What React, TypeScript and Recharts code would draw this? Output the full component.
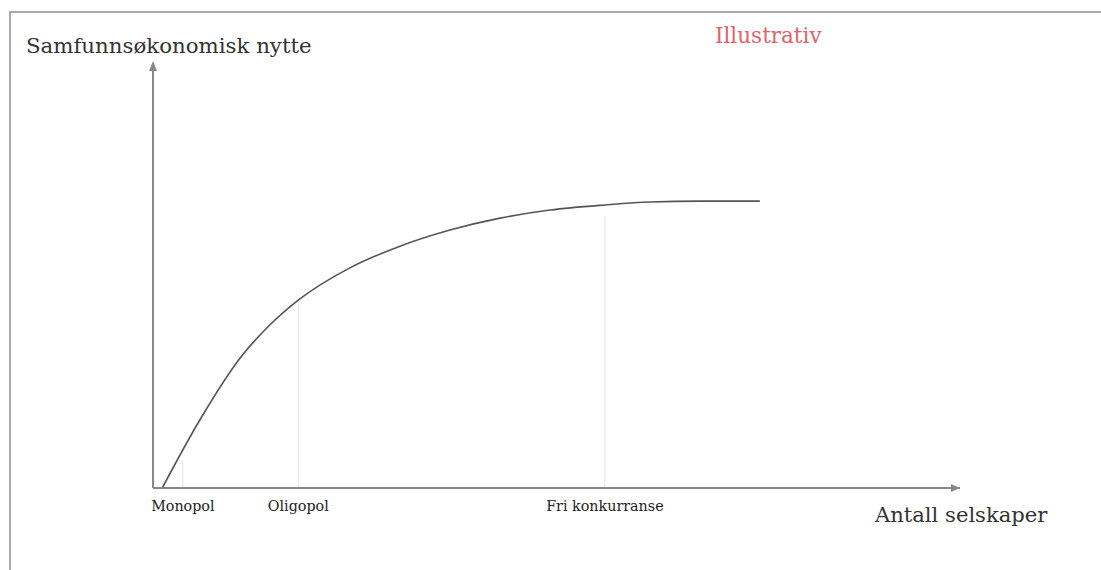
import React from 'react'
import {
  ComposedChart,
  Line,
  XAxis,
  YAxis,
  ReferenceLine,
  ReferenceDot,
} from 'recharts'

// curve (x = antall selskaper, y = nytte, arbitrary units)
const antall = [1.2, 5.8, 10.8, 14.5, 18, 24.4, 30.6, 36.8, 43, 49.2, 56, 61.6, 67.8, 75.2]
const nytte = [0.2, 16, 30.6, 38.4, 44.2, 51.8, 56.9, 60.7, 63.5, 65.4, 66.6, 67.3, 67.5, 67.5]

// market forms marked on the x axis
const markedsform = ['Monopol', 'Oligopol', 'Fri konkurranse']
const markedsX = [3.7, 18, 56]
const markedsTopp = [6.6, 44, 64]

const data = antall.map((x, i) => ({ x, y: nytte[i] }))

const serif = '"DejaVu Serif", "Liberation Serif", serif'

const ArrowRight = (props: any) => {
  const { cx, cy } = props
  return <polygon points={`${cx - 9},${cy - 4} ${cx},${cy} ${cx - 9},${cy + 4}`} fill='#888' />
}

const ArrowUp = (props: any) => {
  const { cx, cy } = props
  return <polygon points={`${cx - 4},${cy + 8} ${cx},${cy - 2} ${cx + 4},${cy + 8}`} fill='#888' />
}

export default function App() {
  return (
    <div style={{ position: 'absolute', left: 0, top: 0, width: 1101, height: 570, background: '#fff', overflow: 'hidden' }}>
      {/* frame */}
      <div style={{ position: 'absolute', left: 9, top: 11, width: 1200, height: 700, borderLeft: '2px solid #aaa', borderTop: '2px solid #aaa' }} />
      <div style={{ position: 'absolute', left: 26, top: 33, fontFamily: serif, fontSize: 21.3, color: '#333', whiteSpace: 'nowrap' }}>
        Samfunnsøkonomisk nytte
      </div>
      <div style={{ position: 'absolute', left: 715, top: 23, fontFamily: serif, fontSize: 21.5, color: '#e0636e', whiteSpace: 'nowrap' }}>
        Illustrativ
      </div>
      <div style={{ position: 'absolute', left: 875, top: 502, fontFamily: serif, fontSize: 21.1, color: '#333', whiteSpace: 'nowrap' }}>
        Antall selskaper
      </div>
      <div style={{ position: 'absolute', left: 0, top: 0 }}>
        <ComposedChart
          width={1101}
          height={570}
          data={data}
          margin={{ top: 63, right: 141, bottom: 52, left: 143 }}
        >
          <XAxis
            dataKey='x'
            type='number'
            domain={[0, 100]}
            ticks={markedsX}
            tickFormatter={(v: number) => markedsform[markedsX.indexOf(v)] ?? ''}
            tickLine={false}
            tickSize={8}
            tickMargin={5}
            height={30}
            stroke='#888'
            strokeWidth={2}
            tick={{ fontFamily: serif, fontSize: 14.3, fill: '#222' }}
          />
          <YAxis
            type='number'
            domain={[0, 100]}
            width={10}
            tick={false}
            tickLine={false}
            stroke='#888'
            strokeWidth={2}
          />
          {markedsX.map((x, i) => (
            <ReferenceLine
              key={markedsform[i]}
              segment={[{ x, y: 0 }, { x, y: markedsTopp[i] }]}
              stroke='#e2e2e2'
              strokeWidth={1}
            />
          ))}
          <Line
            type='monotone'
            dataKey='y'
            stroke='#555'
            strokeWidth={1.6}
            dot={false}
            isAnimationActive={false}
          />
          <ReferenceDot x={100} y={0} r={4} shape={ArrowRight} ifOverflow='visible' />
          <ReferenceDot x={0} y={100} r={4} shape={ArrowUp} ifOverflow='visible' />
        </ComposedChart>
      </div>
    </div>
  )
}
